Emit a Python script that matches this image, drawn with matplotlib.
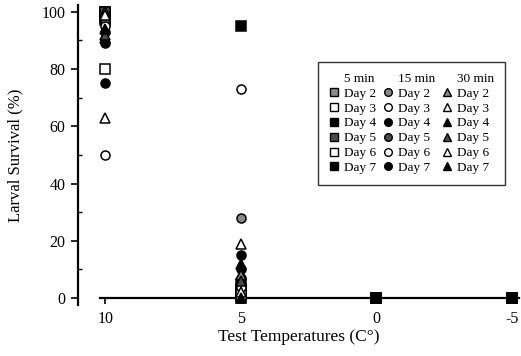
import matplotlib
matplotlib.use("Agg")
import matplotlib.pyplot as plt
from matplotlib.lines import Line2D

plt.rcParams['font.family'] = ['Liberation Serif', 'DejaVu Serif']

temps = [10, 5, 0, -5]
days = ["Day 2", "Day 3", "Day 4", "Day 5", "Day 6", "Day 7"]
durations = ["5 min", "15 min", "30 min"]

# survival (%) at temps 10, 5, 0, -5 for each duration/day
surv_5min = {
    "Day 2": [100, 3, 0, 0],
    "Day 3": [80, 0, 0, 0],
    "Day 4": [100, 2, 0, 0],
    "Day 5": [100, 5, 0, 0],
    "Day 6": [98, 1, 0, 0],
    "Day 7": [97, 95, 0, 0],
}
surv_15min = {
    "Day 2": [96, 28, 0, 0],
    "Day 3": [50, 73, 0, 0],
    "Day 4": [75, 15, 0, 0],
    "Day 5": [93, 7, 0, 0],
    "Day 6": [95, 4, 0, 0],
    "Day 7": [89, 10, 0, 0],
}
surv_30min = {
    "Day 2": [100, 8, 0, 0],
    "Day 3": [63, 19, 0, 0],
    "Day 4": [91, 12, 0, 0],
    "Day 5": [92, 6, 0, 0],
    "Day 6": [99, 2, 0, 0],
    "Day 7": [94, 0, 0, 0],
}
all_surv = [surv_5min, surv_15min, surv_30min]

shapes = ['s', 'o', '^']
sizes = [7, 6.5, 6.5]
face = {"Day 2": '#8a8a8a', "Day 3": 'white', "Day 4": 'black',
        "Day 5": '#4a4a4a', "Day 6": 'white', "Day 7": 'black'}

fig = plt.figure(figsize=(5.21, 3.56), dpi=100)
ax = fig.add_axes([0.150, 0.143, 0.846, 0.843])

handles = []
labels = []
for di, (dur, data) in enumerate(zip(durations, all_surv)):
    handles.append(Line2D([], [], linestyle='none', marker=None))
    labels.append(dur)
    for d in days:
        ax.plot(temps, data[d], linestyle='none', marker=shapes[di],
                markersize=sizes[di], markerfacecolor=face[d],
                markeredgecolor='black', markeredgewidth=1.1, clip_on=False,
                zorder=3)
        h = Line2D([], [], linestyle='none', marker=shapes[di], markersize=5.5,
                   markerfacecolor=face[d], markeredgecolor='black',
                   markeredgewidth=1.0)
        handles.append(h)
        labels.append(d)

ax.set_xlim(11, -5.26)
ax.set_ylim(-2.45, 102.4)

ax.spines['top'].set_visible(False)
ax.spines['right'].set_visible(False)
ax.spines['bottom'].set_position(('data', 0))
ax.spines['bottom'].set_bounds(10.2, -5.26)
ax.spines['bottom'].set_linewidth(1.6)
ax.spines['left'].set_linewidth(1.6)

ax.set_xticks([10, 5, 0, -5])
ax.set_xticklabels(['10', '5', '0', '-5'])
ax.set_yticks([0, 20, 40, 60, 80, 100])
ax.set_yticks([10, 30, 50, 70, 90], minor=True)
ax.tick_params(axis='y', which='major', direction='out', length=5, width=1.2,
               labelsize=11.5, pad=4)
ax.tick_params(axis='y', which='minor', direction='in', length=3, width=1.0)
ax.tick_params(axis='x', which='major', direction='out', length=4, width=1.2,
               labelsize=11.5, pad=5)

ax.set_ylabel('Larval Survival (%)', fontsize=12, labelpad=13)
ax.set_xlabel('Test Temperatures (C\u00b0)', fontsize=12.5, labelpad=2)

leg = ax.legend(handles, labels, ncol=3, loc='upper left',
                bbox_to_anchor=(0.544, 0.81), fontsize=9.5, frameon=True,
                fancybox=False, edgecolor='black', handlelength=0.8,
                handletextpad=0.4, columnspacing=0.45, labelspacing=0.2,
                borderpad=0.8, borderaxespad=0)
leg.get_frame().set_linewidth(1.0)

fig.savefig('out.png', dpi=100)
